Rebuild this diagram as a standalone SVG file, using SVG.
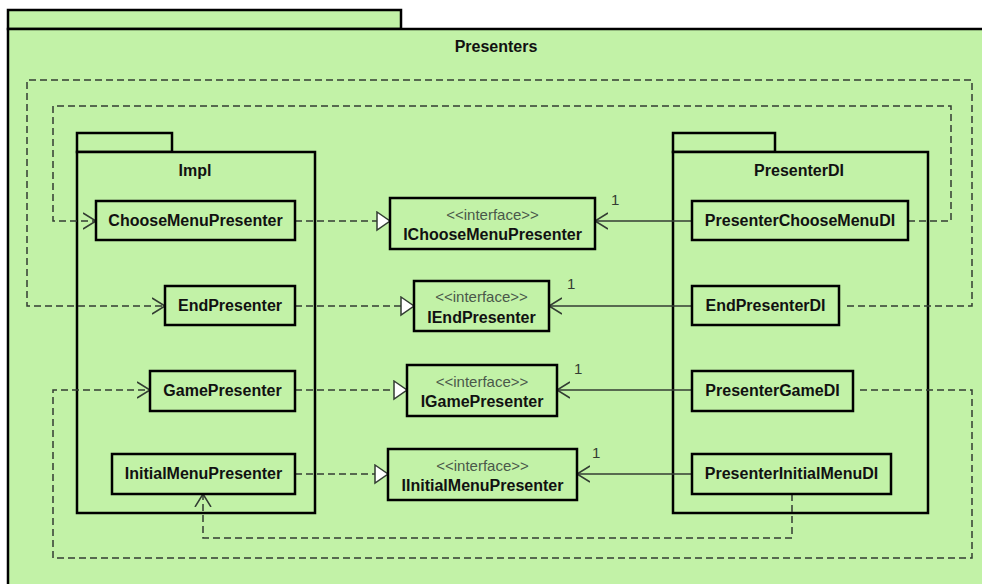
<svg xmlns="http://www.w3.org/2000/svg" width="982" height="584" viewBox="0 0 982 584">
  <style>
    .pkg { fill: #c2f2a7; stroke: #000; stroke-width: 2.5; }
    .box { fill: #c2f2a7; stroke: #000; stroke-width: 2.5; }
    .lbl { font-family: "Liberation Sans", Arial, sans-serif; font-size: 16px; font-weight: bold; fill: #111; text-anchor: middle; }
    .ster { font-family: "Liberation Sans", Arial, sans-serif; font-size: 15px; fill: #4a584a; text-anchor: middle; }
    .mult { font-family: "Liberation Sans", Arial, sans-serif; font-size: 15px; fill: #333d33; }
    .solid { fill: none; stroke: #333d33; stroke-width: 1.5; }
    .dash { fill: none; stroke: #333d33; stroke-width: 1.5; stroke-dasharray: 7 4; }
  </style>
  <defs>
    <marker id="open" markerUnits="userSpaceOnUse" markerWidth="16" markerHeight="20" refX="13" refY="9" orient="auto">
      <path d="M0,1 L13,9 L0,17" fill="none" stroke="#333d33" stroke-width="1.5"/>
    </marker>
    <marker id="tri" markerUnits="userSpaceOnUse" markerWidth="16" markerHeight="22" refX="14" refY="10" orient="auto">
      <path d="M1,1 L14,10 L1,19 Z" fill="#fff" stroke="#333d33" stroke-width="1.5"/>
    </marker>
  </defs>

  <rect width="982" height="584" fill="#fff"/>

  <!-- outer package -->
  <g id="pkg-presenters">
    <rect class="pkg" x="8" y="10" width="393" height="19"/>
    <rect class="pkg" x="8" y="29" width="990" height="570"/>
    <text class="lbl" x="496" y="52">Presenters</text>
  </g>

  <!-- Impl package -->
  <g id="pkg-impl">
    <rect class="pkg" x="77" y="133" width="95" height="19"/>
    <rect class="pkg" x="77" y="152" width="238" height="361"/>
    <text class="lbl" x="195" y="176">Impl</text>
  </g>

  <!-- PresenterDI package -->
  <g id="pkg-di">
    <rect class="pkg" x="673" y="133" width="102" height="19"/>
    <rect class="pkg" x="673" y="152" width="255" height="361"/>
    <text class="lbl" x="799" y="176">PresenterDI</text>
  </g>

  <g id="connectors">
    <!-- realizations -->
    <path class="dash" d="M295,221 H390" marker-end="url(#tri)"/>
    <path class="dash" d="M295,306 H414" marker-end="url(#tri)"/>
    <path class="dash" d="M295,390 H407" marker-end="url(#tri)"/>
    <path class="dash" d="M295,474 H388" marker-end="url(#tri)"/>
    <!-- associations -->
    <path class="solid" d="M692,221 H595" marker-end="url(#open)"/>
    <path class="solid" d="M692,306 H549" marker-end="url(#open)"/>
    <path class="solid" d="M692,390 H557" marker-end="url(#open)"/>
    <path class="solid" d="M692,474 H577" marker-end="url(#open)"/>
    <text class="mult" x="611" y="205">1</text>
    <text class="mult" x="567" y="289">1</text>
    <text class="mult" x="574" y="374">1</text>
    <text class="mult" x="592" y="458">1</text>
    <!-- dependencies -->
    <path class="dash" d="M908,221 H951 V106 H53 V221 H96" marker-end="url(#open)"/>
    <path class="dash" d="M847,306 H972 V80 H27 V306 H165" marker-end="url(#open)"/>
    <path class="dash" d="M860,390 H972 V558 H53 V390 H150" marker-end="url(#open)"/>
    <path class="dash" d="M792,494 V538 H203 V494" marker-end="url(#open)"/>
  </g>

  <g id="ChooseMenuPresenter">
    <rect class="box" x="96" y="201" width="199" height="39"/>
    <text class="lbl" x="195.5" y="226">ChooseMenuPresenter</text>
  </g>
  <g id="EndPresenter">
    <rect class="box" x="165" y="286" width="130" height="39"/>
    <text class="lbl" x="230" y="311">EndPresenter</text>
  </g>
  <g id="GamePresenter">
    <rect class="box" x="150" y="371" width="145" height="40"/>
    <text class="lbl" x="222.5" y="396">GamePresenter</text>
  </g>
  <g id="InitialMenuPresenter">
    <rect class="box" x="112" y="454" width="183" height="40"/>
    <text class="lbl" x="203.5" y="479">InitialMenuPresenter</text>
  </g>

  <g id="IChooseMenuPresenter">
    <rect class="box" x="390" y="198" width="205" height="51"/>
    <text class="ster" x="492.5" y="220">&lt;&lt;interface&gt;&gt;</text>
    <text class="lbl" x="492.5" y="240">IChooseMenuPresenter</text>
  </g>
  <g id="IEndPresenter">
    <rect class="box" x="414" y="281" width="135" height="50"/>
    <text class="ster" x="481.5" y="302">&lt;&lt;interface&gt;&gt;</text>
    <text class="lbl" x="481.5" y="323">IEndPresenter</text>
  </g>
  <g id="IGamePresenter">
    <rect class="box" x="407" y="365" width="150" height="51"/>
    <text class="ster" x="482" y="387">&lt;&lt;interface&gt;&gt;</text>
    <text class="lbl" x="482" y="407">IGamePresenter</text>
  </g>
  <g id="IInitialMenuPresenter">
    <rect class="box" x="388" y="449" width="189" height="51"/>
    <text class="ster" x="482.5" y="471">&lt;&lt;interface&gt;&gt;</text>
    <text class="lbl" x="482.5" y="491">IInitialMenuPresenter</text>
  </g>

  <g id="PresenterChooseMenuDI">
    <rect class="box" x="692" y="201" width="216" height="39"/>
    <text class="lbl" x="800" y="226">PresenterChooseMenuDI</text>
  </g>
  <g id="EndPresenterDI">
    <rect class="box" x="692" y="286" width="147" height="39"/>
    <text class="lbl" x="765.5" y="311">EndPresenterDI</text>
  </g>
  <g id="PresenterGameDI">
    <rect class="box" x="692" y="371" width="161" height="40"/>
    <text class="lbl" x="772.5" y="396">PresenterGameDI</text>
  </g>
  <g id="PresenterInitialMenuDI">
    <rect class="box" x="692" y="454" width="199" height="40"/>
    <text class="lbl" x="791.5" y="479">PresenterInitialMenuDI</text>
  </g>
</svg>
